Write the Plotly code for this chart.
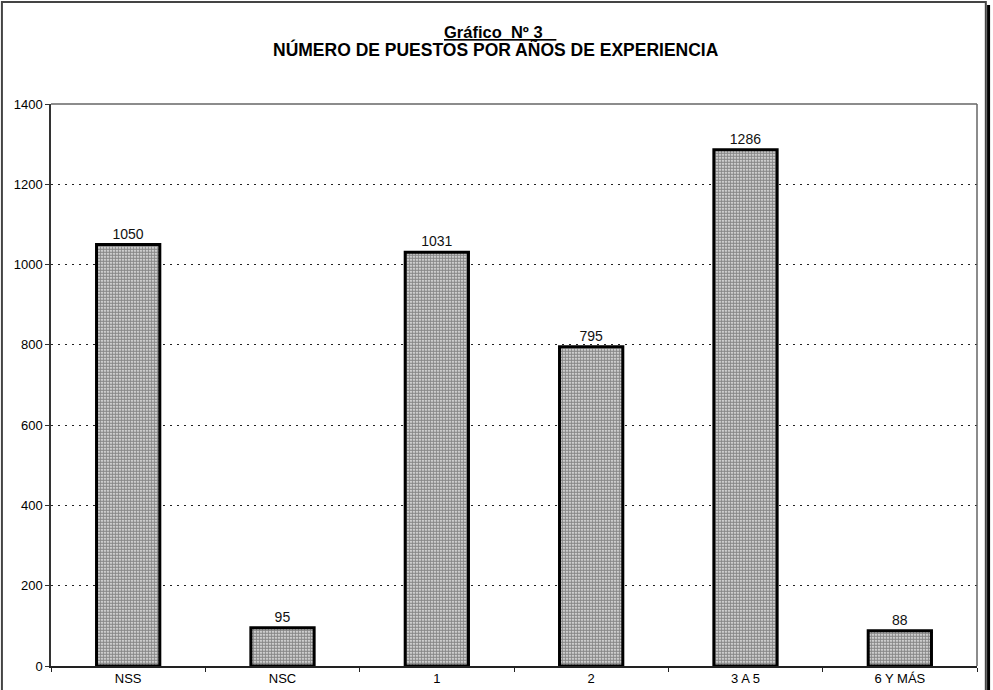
import plotly.graph_objects as go

categories = ["NSS", "NSC", "1", "2", "3 A 5", "6 Y MÁS"]
values = [1050, 95, 1031, 795, 1286, 88]
y_ticks = [0, 200, 400, 600, 800, 1000, 1200, 1400]

fig = go.Figure()
fig.add_trace(go.Bar(
    x=categories, y=values,
    text=[str(v) for v in values], textposition="outside",
    textfont=dict(family="Liberation Sans, Arial", size=14, color="#111"),
    cliponaxis=False,
    marker=dict(
        color="white",
        line=dict(color="black", width=3),
        pattern=dict(shape=".", size=3, solidity=0.75, fgcolor="#111", bgcolor="#ffffff", fillmode="overlay"),
    ),
))

title_x = (496 - 51) / 926

fig.update_layout(
    width=993, height=690,
    margin=dict(l=51, r=16, t=104, b=24, autoexpand=False),
    paper_bgcolor="white", plot_bgcolor="white",
    showlegend=False,
    bargap=0.59,
    uniformtext=dict(minsize=14),
    font=dict(family="Liberation Sans, Arial", size=13, color="black"),
    annotations=[
        dict(text="<b><u>Gráfico  Nº 3\u00a0\u00a0\u00a0</u></b>", xref="paper", yref="paper",
             x=title_x + 4 / 926, y=(666 - 32) / 562, xanchor="center", yanchor="middle", showarrow=False,
             font=dict(family="Liberation Sans, Arial", size=16.5, color="black")),
        dict(text="<b>NÚMERO DE PUESTOS POR AÑOS DE EXPERIENCIA</b>", xref="paper", yref="paper",
             x=title_x, y=(666 - 50) / 562, xanchor="center", yanchor="middle", showarrow=False,
             font=dict(family="Liberation Sans, Arial", size=17.5, color="black")),
    ],
    xaxis=dict(
        showline=True, linecolor="#222", linewidth=1.5, automargin=False,
        ticks="outside", tickson="boundaries", ticklen=4, tickcolor="#222",
        showgrid=False, tickfont=dict(size=13), mirror=False,
    ),
    yaxis=dict(
        range=[0, 1400], tickvals=y_ticks, automargin=False,
        showline=True, linecolor="#333", linewidth=1.5,
        ticks="outside", ticklen=4, tickcolor="#333",
        showgrid=True, gridcolor="#222", gridwidth=1, griddash="2px,5px",
        zeroline=False, tickfont=dict(size=13),
    ),
    shapes=[
        dict(type="line", xref="paper", yref="paper", x0=0, x1=1, y0=1, y1=1,
             line=dict(color="#666", width=1.5)),
        dict(type="line", xref="paper", yref="paper", x0=1, x1=1, y0=0, y1=1,
             line=dict(color="#666", width=1.5)),
        dict(type="rect", xref="paper", yref="paper", x0=-0.053, x1=1.0095, y0=-0.2, y1=1.1815,
             line=dict(color="#444", width=2), layer="below"),
        dict(type="line", xref="paper", yref="paper", x0=1.0125, x1=1.0125, y0=-0.2, y1=1.176,
             line=dict(color="black", width=3)),
    ],
)

fig.write_html("out.html")
